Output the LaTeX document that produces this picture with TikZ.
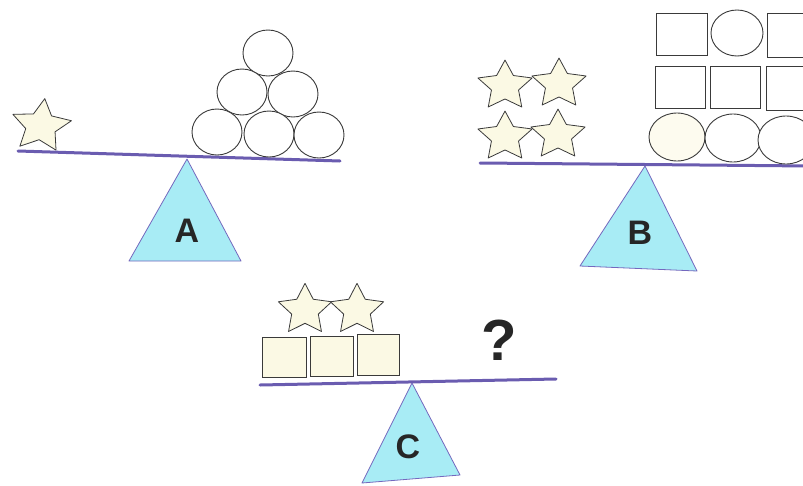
\documentclass[tikz,border=0pt]{standalone}
\usepackage{fontspec}
\setmainfont{Liberation Sans}
\definecolor{beamc}{HTML}{6A5CB0}
\definecolor{trifill}{HTML}{A8ECF5}
\definecolor{triedge}{HTML}{7468BE}
\definecolor{cream}{HTML}{FBF9E4}
\definecolor{edgec}{HTML}{3A3A3A}
\tikzset{
  beam/.style={draw=beamc,line width=3pt,line cap=round},
  fulcrum/.style={draw=triedge,fill=trifill,line width=0.8pt,line join=round},
  lab/.style={font=\fontsize{34}{34}\selectfont\bfseries,text=black!85,inner sep=0pt},
  qmark/.style={font=\fontsize{58}{58}\selectfont\bfseries,text=black!85,inner sep=0pt},
  shapeline/.style={draw=edgec,line width=0.9pt},
  starline/.style={draw=edgec,fill=cream,line width=0.8pt,line join=round},
  pics/mystar/.style={code={
    \draw[starline] (270:#1) \foreach \i in {1,...,9}{ -- ({270+36*\i}:{mod(\i,2)==1 ? 0.5*#1 : #1}) } -- cycle;
  }}
}
\begin{document}
\begin{tikzpicture}[x=1pt,y=-1pt]
\useasboundingbox (0,0) rectangle (803,485);
\fill[white] (0,0) rectangle (803,485);
\clip (0,0) rectangle (803,485);

% ---------- Scale A ----------
\draw[fulcrum] (187,159) -- (129,261) -- (241,261) -- cycle;
\node[lab] (labA) at (187,231) {A};
\draw[beam] (18,151) -- (340,161);
\pic[yscale=0.89,rotate=-7] at (41,126) {mystar=31};
\foreach \cx/\cy in {268/53, 242/92, 293/94, 217/132, 269/134, 319/135}
  \draw[shapeline,fill=white] (\cx,\cy) ellipse [x radius=25, y radius=23];

% ---------- Scale B ----------
\draw[fulcrum] (645,166) -- (580,266) -- (697,271) -- cycle;
\node[lab] (labB) at (640,233) {B};
\draw[beam] (480,163) -- (810,166);
\pic[yscale=0.91] at (505,86) {mystar=28.5};
\pic[yscale=0.91] at (559,84) {mystar=28.5};
\pic[yscale=0.91] at (505,137) {mystar=28.5};
\pic[yscale=0.91] at (558,135) {mystar=28.5};
\draw[shapeline,fill=white] (656,13) rectangle (707,55);
\draw[shapeline,fill=white] (737,33) ellipse [x radius=26, y radius=23];
\draw[shapeline,fill=white] (767,13) rectangle (830,57);
\draw[shapeline,fill=white] (655,66) rectangle (705,108);
\draw[shapeline,fill=white] (710,66) rectangle (760,108);
\draw[shapeline,fill=white] (766,66) rectangle (830,110);
\draw[shapeline,fill=cream!60] (677,137) ellipse [x radius=28, y radius=24];
\draw[shapeline,fill=white] (733,138) ellipse [x radius=28, y radius=24];
\draw[shapeline,fill=white] (786,140) ellipse [x radius=28, y radius=24];

% ---------- Scale C ----------
\draw[fulcrum] (412,383) -- (362,483) -- (460,475) -- cycle;
\node[lab] (labC) at (408,447) {C};
\draw[beam] (260,385) -- (556,379);
\draw[shapeline,fill=cream] (262,337) rectangle (306,377);
\draw[shapeline,fill=cream] (310,336) rectangle (353,376);
\draw[shapeline,fill=cream] (357,334) rectangle (399,375);
\pic[yscale=0.95] at (305,310) {mystar=28};
\pic[yscale=0.95] at (357,310) {mystar=28};
\node[qmark] (q) at (499,340) {?};
\end{tikzpicture}
\end{document}
